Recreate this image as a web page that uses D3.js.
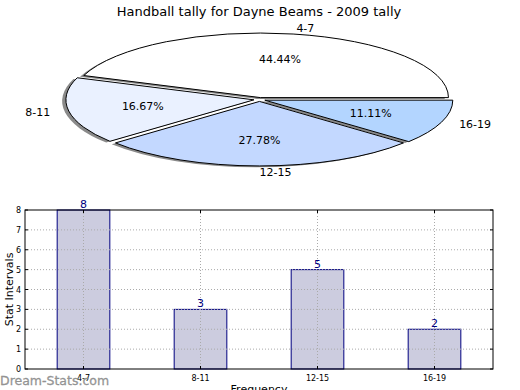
<!DOCTYPE html>
<html><head><meta charset="utf-8">
<script src="https://cdn.jsdelivr.net/npm/d3@7/dist/d3.min.js"></script>
<style>body{margin:0;background:#fff}svg{display:block;font-family:"DejaVu Sans",sans-serif}</style>
</head><body>
<svg id="c" width="520" height="390"></svg>
<script>
const categories = ["4-7", "8-11", "12-15", "16-19"];
const values = [8, 3, 5, 2];
const pieColors = ["#ffffff", "#eaf1ff", "#c3d8ff", "#b3d5ff"];
const yTicks = [0, 1, 2, 3, 4, 5, 6, 7, 8];
const title = "Handball tally for Dayne Beams - 2009 tally";

const svg = d3.select("#c");
svg.append("rect").attr("width",520).attr("height",390).attr("fill","#fff");

// ---- Pie ----
const cx = 259.5, cy = 99.5, rx = 188, ry = 64.5, explode = 0.03;
const total = d3.sum(values);
const pieGen = d3.pie().sort(null).value(d=>d)
  .startAngle(Math.PI/2).endAngle(Math.PI/2 - 2*Math.PI);
const arcs = pieGen(values);
const arcGen = d3.arc().innerRadius(0).outerRadius(1);
function info(a){
  const mid = (a.startAngle + a.endAngle)/2;
  const th = Math.PI/2 - mid;
  const ox = cx + explode*rx*Math.cos(th);
  const oy = cy - explode*ry*Math.sin(th);
  return {th, ox, oy};
}
const gShadow = svg.append("g"), gW = svg.append("g"), gT = svg.append("g");
arcs.forEach((a,i)=>{
  const {th, ox, oy} = info(a);
  const d = arcGen({startAngle: Math.min(a.startAngle,a.endAngle), endAngle: Math.max(a.startAngle,a.endAngle)});
  gShadow.append("path").attr("d", d)
    .attr("transform", `translate(${ox-0.02*rx},${oy+0.02*ry}) scale(${rx},${ry})`)
    .attr("fill", "#8a8a8a").attr("stroke","none");
  gW.append("path").attr("d", d)
    .attr("transform", `translate(${ox},${oy}) scale(${rx},${ry})`)
    .attr("fill", pieColors[i]).attr("stroke","#000").attr("stroke-width",1)
    .attr("vector-effect","non-scaling-stroke");
  const lx = ox + 1.1*rx*Math.cos(th), ly = oy - 1.1*ry*Math.sin(th);
  gT.append("text").attr("x", lx).attr("y", ly).attr("dy","0.35em")
    .attr("text-anchor", Math.cos(th) >= -1e-9 ? "start" : "end")
    .attr("font-size", 11).attr("fill","#000").text(categories[i]);
  const px = ox + 0.6*rx*Math.cos(th), py = oy - 0.6*ry*Math.sin(th);
  gT.append("text").attr("x", px).attr("y", py).attr("dy","0.35em")
    .attr("text-anchor","middle").attr("font-size", 11).attr("fill","#000")
    .text((values[i]/total*100).toFixed(2) + "%");
});
svg.append("text").attr("x", 259).attr("y", 11).attr("dy","0.35em")
  .attr("text-anchor","middle").attr("font-size", 13).text(title);

// ---- Bar chart ----
const L = 25, R = 493, T = 210, B = 369;
const x = d3.scaleLinear().domain([-0.5, categories.length - 0.5]).range([L, R]);
const y = d3.scaleLinear().domain([0, 8]).range([B, T]);
const bw = x(0.45) - x(0);
const g = svg.append("g");
g.selectAll(".bar").data(values).join("rect")
  .attr("x",(d,i)=>x(i)-bw/2).attr("y",d=>y(d)).attr("width",bw).attr("height",d=>B-y(d))
  .attr("fill","#ccccdf").attr("stroke","#000080").attr("stroke-width",1);
g.selectAll(".vg").data(categories).join("line")
  .attr("x1",(d,i)=>x(i)).attr("x2",(d,i)=>x(i)).attr("y1",T).attr("y2",B)
  .attr("stroke","#aaaaaa").attr("stroke-width",1).attr("stroke-dasharray","1,2");
g.selectAll(".hg").data(yTicks.slice(1,-1)).join("line")
  .attr("x1", L).attr("x2", R).attr("y1", d=>y(d)).attr("y2", d=>y(d))
  .attr("stroke","#aaaaaa").attr("stroke-width",1).attr("stroke-dasharray","1,2");
g.selectAll(".vl").data(values).join("text")
  .attr("x",(d,i)=>x(i)).attr("y",d=>y(d)-2).attr("text-anchor","middle")
  .attr("font-size",11).attr("fill","#000080").text(d=>d);
g.append("rect").attr("x",L).attr("y",T).attr("width",R-L).attr("height",B-T)
  .attr("fill","none").attr("stroke","#000").attr("stroke-width",1);
const yAxis = d3.axisLeft(y).tickValues(yTicks).tickSize(0).tickPadding(4);
const ya = g.append("g").attr("transform",`translate(${L},0)`).call(yAxis);
ya.select(".domain").remove();
ya.selectAll("text").attr("font-size",8).attr("font-family","DejaVu Sans, sans-serif");
g.selectAll(".ytl").data(yTicks).join("line")
  .attr("x1",L).attr("x2",L+3).attr("y1",d=>y(d)).attr("y2",d=>y(d)).attr("stroke","#000");
g.selectAll(".ytr").data(yTicks).join("line")
  .attr("x1",R-3).attr("x2",R).attr("y1",d=>y(d)).attr("y2",d=>y(d)).attr("stroke","#000");
g.selectAll(".xtb").data(categories).join("line")
  .attr("x1",(d,i)=>x(i)).attr("x2",(d,i)=>x(i)).attr("y1",B-3).attr("y2",B).attr("stroke","#000");
g.selectAll(".xtt").data(categories).join("line")
  .attr("x1",(d,i)=>x(i)).attr("x2",(d,i)=>x(i)).attr("y1",T).attr("y2",T+3).attr("stroke","#000");
g.selectAll(".xl").data(categories).join("text")
  .attr("x",(d,i)=>x(i)).attr("y",B+9).attr("dy","0.35em").attr("text-anchor","middle")
  .attr("font-size",8).text(d=>d);
svg.append("text").attr("x",259).attr("y",393).attr("text-anchor","middle")
  .attr("font-size",11).text("Frequency");
svg.append("text").attr("transform",`translate(13,${(T+B)/2}) rotate(-90)`)
  .attr("text-anchor","middle").attr("font-size",11).text("Stat Intervals");
svg.append("text").attr("x",0).attr("y",385).attr("font-size",12.5)
  .attr("fill","#8c8c8c").attr("fill-opacity",0.9).attr("stroke","#8c8c8c").attr("stroke-width",0.3)
  .text("Dream-Stats.com");
</script>
</body></html>
